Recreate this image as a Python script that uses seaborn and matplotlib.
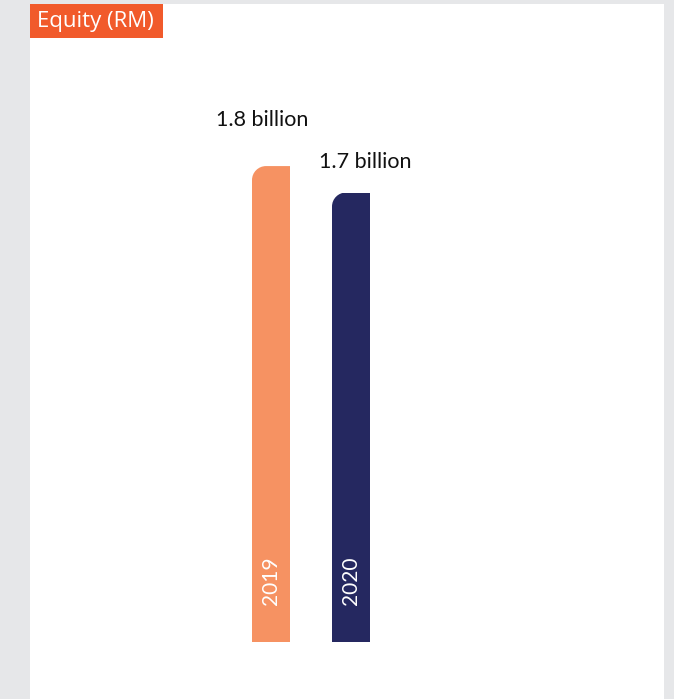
import matplotlib
matplotlib.use("Agg")
import matplotlib.pyplot as plt
from matplotlib.patches import Rectangle
from matplotlib.path import Path
import seaborn as sns
import pandas as pd

# Data
years = ["2019", "2020"]
equity_billion = [1.8, 1.7]
value_labels = ["1.8 billion", "1.7 billion"]
title = "Equity (RM)"

bar_colors = ["#f69262", "#252860"]
title_bg = "#f15a2b"
page_bg = "#e6e7e9"

sns.set_theme(style="white")
plt.rcParams["font.family"] = ["Lato", "DejaVu Sans"]

W, H, DPI = 674, 699, 100
fig = plt.figure(figsize=(W / DPI, H / DPI), dpi=DPI)
fig.patch.set_facecolor(page_bg)

# white panel = axes area
px_per_unit_y = 264.4
px_per_unit_x = 80.0
panel_left, panel_right, panel_top = 30, 664, 4
base_px = 642
first_center_px = 271

ax = fig.add_axes([panel_left / W, 0, (panel_right - panel_left) / W, (H - panel_top) / H])
ax.set_facecolor("white")

df = pd.DataFrame({"year": years, "equity": equity_billion})
sns.barplot(data=df, x="year", y="equity", hue="year", palette=bar_colors,
            width=38 / px_per_unit_x, legend=False, ax=ax, saturation=1)

x0 = -(first_center_px - panel_left) / px_per_unit_x
x1 = x0 + (panel_right - panel_left) / px_per_unit_x
ax.set_xlim(x0, x1)
ax.set_ylim(-(H - base_px) / px_per_unit_y, (base_px - panel_top) / px_per_unit_y)
for sp in ax.spines.values():
    sp.set_visible(False)
ax.set_xticks([])
ax.set_yticks([])
ax.set_xlabel("")
ax.set_ylabel("")

# round top-left corner of each bar
r_px = 14
rx, ry = r_px / px_per_unit_x, r_px / px_per_unit_y
k = 0.5523
for bar in ax.patches:
    bx, by = bar.get_x(), bar.get_y()
    bw, bh = bar.get_width(), bar.get_height()
    top = by + bh
    verts = [
        (bx, by), (bx + bw, by), (bx + bw, top), (bx + rx, top),
        (bx + rx - k * rx, top), (bx, top - ry + k * ry), (bx, top - ry),
        (bx, by),
    ]
    codes = [Path.MOVETO, Path.LINETO, Path.LINETO, Path.LINETO,
             Path.CURVE4, Path.CURVE4, Path.CURVE4, Path.CLOSEPOLY]
    bar.set_clip_path(Path(verts, codes), ax.transData)
    bar.set_edgecolor("none")

# value labels above bars
label_offsets = [(-9, 46), (14.5, 31)]  # pixels
pt = 72 / DPI
for i, (val, lab) in enumerate(zip(equity_billion, value_labels)):
    dx, dy = label_offsets[i]
    ax.annotate(lab, xy=(i, val), xytext=(dx * pt, dy * pt), textcoords="offset points",
                ha="center", va="center", fontsize=15.5, color="#111111")

# year labels inside bars
for i, yr in enumerate(years):
    ax.text(i, 37 / px_per_unit_y, yr, rotation=90, ha="center", va="bottom",
            fontsize=15, color="white", fontweight="normal")

# title box
fig.patches.append(Rectangle((30 / W, 1 - 38 / H), 133 / W, 34 / H,
                             transform=fig.transFigure, facecolor=title_bg,
                             edgecolor="none", zorder=5))
fig.text(37 / W, 1 - 21 / H, title, ha="left", va="center", fontsize=16,
         color="white", family=["Open Sans", "DejaVu Sans"], zorder=6)

fig.savefig("out.png", dpi=DPI, facecolor=page_bg)
